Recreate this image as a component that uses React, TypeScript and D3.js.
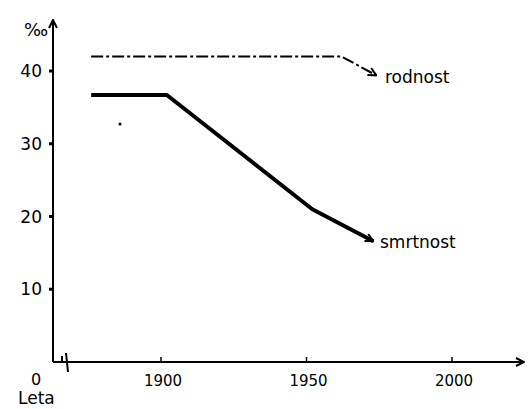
import { useEffect, useRef } from "react";
import * as d3 from "d3";

// Years and rates (per mille)
const birthYears = [1876, 1962, 1974];
const birthRates = [42, 42, 39.4];
const deathYears = [1876, 1902, 1952, 1973];
const deathRates = [36.7, 36.7, 21, 16.6];
const xTicks = [1900, 1950, 2000];
const yTicks = [10, 20, 30, 40];

export default function App() {
  const ref = useRef<SVGSVGElement | null>(null);

  useEffect(() => {
    const svg = d3.select(ref.current);
    svg.selectAll("*").remove();

    const originX = 53;
    const originY = 362;
    const font = "'DejaVu Sans', sans-serif";

    const x = d3.scaleLinear().domain([1900, 2000]).range([161, 452]);
    const y = d3.scaleLinear().domain([0, 40]).range([originY, 71]);

    const defs = svg.append("defs");
    defs
      .append("marker")
      .attr("id", "arrow")
      .attr("viewBox", "0 0 10 10")
      .attr("refX", 9)
      .attr("refY", 5)
      .attr("markerWidth", 10)
      .attr("markerHeight", 10)
      .attr("markerUnits", "userSpaceOnUse")
      .attr("orient", "auto")
      .append("path")
      .attr("d", "M1,1 L9,5 L1,9")
      .attr("fill", "none")
      .attr("stroke", "#000")
      .attr("stroke-width", 2);

    // axes
    svg
      .append("line")
      .attr("x1", originX)
      .attr("y1", originY)
      .attr("x2", originX)
      .attr("y2", 20)
      .attr("stroke", "#000")
      .attr("stroke-width", 2)
      .attr("marker-end", "url(#arrow)");

    svg
      .append("line")
      .attr("x1", originX)
      .attr("y1", originY)
      .attr("x2", 524)
      .attr("y2", originY)
      .attr("stroke", "#000")
      .attr("stroke-width", 2)
      .attr("marker-end", "url(#arrow)");

    // axis break squiggle
    svg
      .append("path")
      .attr("d", `M${originX + 9},${originY - 6} L${originX + 9},${originY} M${originX + 13},${originY - 9} L${originX + 15},${originY + 10}`)
      .attr("stroke", "#000")
      .attr("stroke-width", 2)
      .attr("fill", "none");

    // y ticks
    svg
      .selectAll(".ytick")
      .data(yTicks)
      .enter()
      .append("line")
      .attr("x1", originX - 4)
      .attr("x2", originX)
      .attr("y1", (d) => y(d))
      .attr("y2", (d) => y(d))
      .attr("stroke", "#000")
      .attr("stroke-width", 3);

    svg
      .selectAll(".ylabel")
      .data(yTicks)
      .enter()
      .append("text")
      .attr("x", 42)
      .attr("y", (d) => y(d) + 6)
      .attr("text-anchor", "end")
      .attr("font-family", font)
      .attr("font-size", 17)
      .text((d) => d);

    svg
      .append("text")
      .attr("x", 36)
      .attr("y", 385)
      .attr("text-anchor", "middle")
      .attr("font-family", font)
      .attr("font-size", 16)
      .text("0");

    // x ticks
    svg
      .selectAll(".xtick")
      .data(xTicks)
      .enter()
      .append("line")
      .attr("x1", (d) => x(d))
      .attr("x2", (d) => x(d))
      .attr("y1", originY - 5)
      .attr("y2", originY)
      .attr("stroke", "#000")
      .attr("stroke-width", 1.5);

    svg
      .selectAll(".xlabel")
      .data(xTicks)
      .enter()
      .append("text")
      .attr("x", (d) => x(d) + 2)
      .attr("y", 386)
      .attr("text-anchor", "middle")
      .attr("font-family", font)
      .attr("font-size", 15)
      .text((d) => d);

    svg
      .append("text")
      .attr("x", 18)
      .attr("y", 404)
      .attr("font-family", font)
      .attr("font-size", 17)
      .text("Leta");

    svg
      .append("text")
      .attr("x", 24)
      .attr("y", 36)
      .attr("font-family", font)
      .attr("font-size", 18)
      .text("‰");

    const line = d3
      .line<[number, number]>()
      .x((d) => x(d[0]))
      .y((d) => y(d[1]));

    const birth = birthYears.map((yr, i) => [yr, birthRates[i]] as [number, number]);
    const death = deathYears.map((yr, i) => [yr, deathRates[i]] as [number, number]);

    svg
      .append("path")
      .attr("d", line(birth))
      .attr("fill", "none")
      .attr("stroke", "#000")
      .attr("stroke-width", 2)
      .attr("stroke-dasharray", "12,3,3,3")
      .attr("marker-end", "url(#arrow)");

    svg
      .append("path")
      .attr("d", line(death))
      .attr("fill", "none")
      .attr("stroke", "#000")
      .attr("stroke-width", 4)
      .attr("stroke-linejoin", "round")
      .attr("marker-end", "url(#arrow)");

    svg
      .append("text")
      .attr("x", 385)
      .attr("y", 83)
      .attr("font-family", font)
      .attr("font-size", 17)
      .text("rodnost");

    svg
      .append("text")
      .attr("x", 380)
      .attr("y", 248)
      .attr("font-family", font)
      .attr("font-size", 17)
      .text("smrtnost");

    // stray dot in the drawing
    svg.append("circle").attr("cx", 120).attr("cy", 124).attr("r", 1.5).attr("fill", "#000");
  }, []);

  return (
    <div style={{ position: "fixed", left: 0, top: 0 }}>
      <svg ref={ref} width={528} height={409} style={{ display: "block", background: "#fff" }} />
    </div>
  );
}
